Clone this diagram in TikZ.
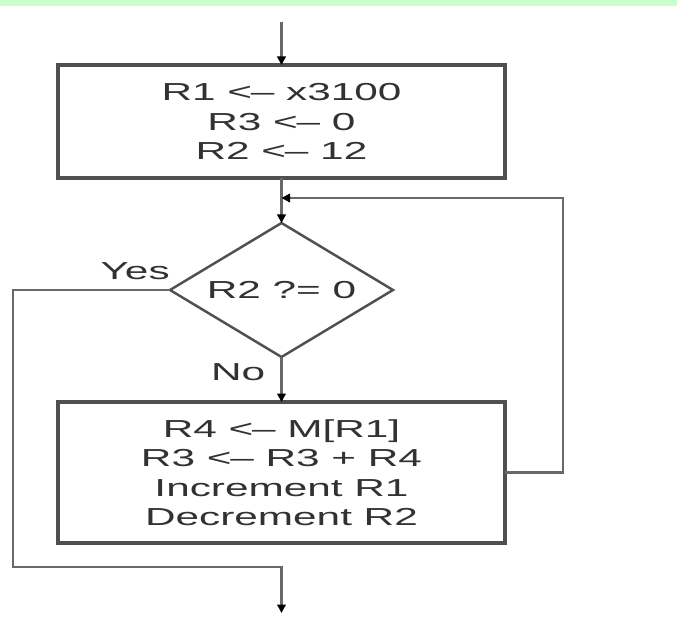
\documentclass[tikz,border=0pt]{standalone}
\usepackage{fontspec}
\setmainfont{Liberation Sans}[FakeStretch=1.72]
\usepackage{xcolor}
\usepackage{tikz}
\usetikzlibrary{positioning, arrows.meta, shapes.geometric, calc}
\definecolor{band}{RGB}{204, 255, 204}
\definecolor{edge}{RGB}{80, 80, 80}
\definecolor{wire}{RGB}{105, 105, 105}
\definecolor{ink}{RGB}{50, 50, 50}

\begin{document}
\begin{tikzpicture}[
    stepbox/.style={draw=edge, line width=1.8pt, minimum width=8.94cm, align=center, inner sep=0pt, outer sep=0pt, text=ink, font=\fontsize{14}{16.8}\selectfont},
    test/.style={diamond, draw=edge, line width=1.4pt, minimum width=4.46cm, minimum height=2.68cm, aspect=1.66, inner sep=0pt, outer sep=0pt, text=ink, font=\fontsize{14}{16.8}\selectfont},
    conn/.style={-{Triangle[length=1.7mm, width=1.7mm, black]}, line width=1.5pt, wire},
    label/.style={inner sep=0pt, text=ink, font=\fontsize{14}{16.8}\selectfont}
]

% frame and top band
\path[use as bounding box, fill=white] (-5.63,2.43) rectangle (7.91,-9.93);
\fill[band] (-5.63,2.43) rectangle (7.91,2.31);

\node[stepbox, minimum height=2.26cm] (init) at (0,0) {R1 <\kern-0.05em– x3100\\R3 <\kern-0.05em– 0\\R2 <\kern-0.05em– 12};
\node[test, below=0.9cm of init] (dec) {R2 ?= 0};
\node[stepbox, minimum height=2.82cm, below=0.9cm of dec] (body) {R4 <\kern-0.05em– M[R1]\\R3 <\kern-0.05em– R3 + R4\\Increment R1\\Decrement R2};

\coordinate[above=0.86cm of init] (start);
\coordinate[below=0.4cm of init] (merge);
\coordinate[below=0.48cm of body] (join);
\coordinate[below=0.92cm of join] (done);

\node[label, above left=0.2cm and 0cm of dec.west] (yes) {Yes};
\node[label, below left=0.12cm and 0.32cm of dec.south] (no) {No};

\draw[conn] (start) -- (init);
\draw[conn] (init) -- (dec);
\draw[conn] (dec) -- (body);
\draw[conn] (body.east) -- ++(1.16,0) |- (merge);
\draw[conn] (dec.west) -- ++(-3.14,0) |- (join) -- (done);

\end{tikzpicture}
\end{document}
